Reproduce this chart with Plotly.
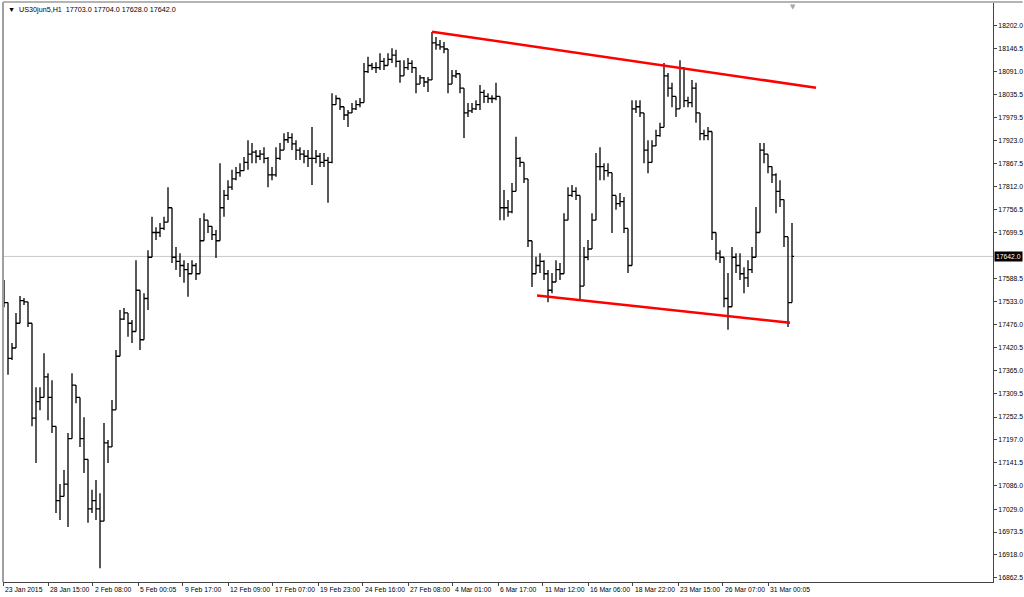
import plotly.graph_objects as go

# H1 bars of US30jun5 aggregated roughly 6 hours per bar
highs = [
    17585, 17530, 17432, 17505, 17546, 17541, 17532, 17480, 17325, 17325,
    17407, 17359, 17342, 17230, 17090, 17124, 17214, 17359, 17330, 17300,
    17252, 17150, 17076, 17100, 17068, 17238, 17197, 17294, 17415, 17512,
    17517, 17505, 17488, 17633, 17560, 17553, 17657, 17738, 17713, 17723,
    17738, 17810, 17760, 17665, 17650, 17633, 17626, 17633, 17626, 17735,
    17747, 17730, 17715, 17706, 17868, 17803, 17827, 17852, 17859, 17868,
    17883, 17924, 17917, 17900, 17900, 17907, 17883, 17859, 17907, 17917,
    17941, 17944, 17941, 17924, 17907, 17900, 17900, 17956, 17900, 17893,
    17893, 17883, 18038, 18033, 18025, 18005, 17997, 18014, 18021, 18026,
    18111, 18126, 18111, 18113, 18135, 18123, 18135, 18147, 18143, 18118,
    18118, 18123, 18118, 18101, 18082, 18077, 18077, 18186, 18174, 18167,
    18162, 18145, 18094, 18094, 18085, 18050, 18014, 18014, 18021, 18058,
    18046, 18038, 18033, 18063, 18030, 17803, 17779, 17820, 17932, 17883,
    17870, 17830, 17680, 17641, 17650, 17633, 17609, 17602, 17633, 17626,
    17747, 17810, 17815, 17810, 17790, 17665, 17682, 17747, 17893, 17907,
    17868, 17868, 17845, 17790, 17796, 17786, 17710, 18021, 18021, 18021,
    17990, 17924, 17924, 17949, 17966, 18111, 18087, 18063, 18030, 18118,
    18100, 18029, 18070, 18063, 17990, 17949, 17956, 17945, 17700, 17657,
    17640, 17602, 17665, 17650, 17650, 17616, 17633, 17665, 17762, 17917,
    17917, 17890, 17860, 17844, 17827, 17780, 17690, 17723,
]
lows = [
    17519, 17355, 17391, 17420, 17480, 17524, 17471, 17230, 17141, 17269,
    17300, 17245, 17214, 17020, 17003, 17060, 16986, 17200, 17286, 17180,
    17117, 16996, 17020, 17003, 16886, 17000, 17141, 17180, 17270, 17400,
    17488, 17447, 17432, 17460, 17415, 17440, 17512, 17640, 17682, 17689,
    17706, 17725, 17626, 17609, 17592, 17578, 17544, 17600, 17585, 17600,
    17680, 17699, 17682, 17638, 17680, 17738, 17779, 17803, 17827, 17835,
    17850, 17852, 17868, 17868, 17876, 17868, 17810, 17827, 17835, 17876,
    17900, 17917, 17900, 17876, 17876, 17868, 17859, 17815, 17868, 17859,
    17859, 17772, 17868, 18010, 17997, 17973, 17956, 17990, 17997, 18004,
    18015, 18087, 18094, 18087, 18094, 18094, 18105, 18111, 18101, 18063,
    18080, 18094, 18087, 18038, 18060, 18053, 18041, 18070, 18143, 18143,
    18135, 18038, 18060, 18075, 18038, 17929, 17980, 17990, 17997, 17997,
    18014, 18014, 18014, 18021, 17730, 17730, 17738, 17747, 17800, 17859,
    17820, 17665, 17568, 17600, 17602, 17585, 17531, 17553, 17580, 17585,
    17600, 17730, 17786, 17779, 17536, 17570, 17633, 17660, 17730, 17827,
    17827, 17835, 17699, 17755, 17762, 17699, 17602, 17620, 17990, 17980,
    17868, 17844, 17870, 17910, 17932, 17955, 18029, 18004, 17980, 18000,
    18004, 18004, 18004, 17966, 17924, 17924, 17924, 17682, 17633, 17626,
    17519, 17464, 17520, 17602, 17585, 17553, 17568, 17602, 17640, 17700,
    17868, 17844, 17820, 17747, 17762, 17665, 17471, 17530,
]
closes = [
    17530, 17395, 17420, 17480, 17535, 17532, 17480, 17250, 17290, 17300,
    17350, 17300, 17230, 17050, 17060, 17090, 17200, 17330, 17300, 17200,
    17150, 17030, 17050, 17030, 17000, 17190, 17180, 17270, 17400, 17490,
    17505, 17480, 17460, 17560, 17440, 17540, 17640, 17700, 17700, 17710,
    17725, 17760, 17640, 17630, 17620, 17610, 17600, 17620, 17600, 17680,
    17730, 17715, 17695, 17680, 17760, 17790, 17810, 17830, 17845, 17850,
    17870, 17890, 17895, 17885, 17890, 17880, 17840, 17840, 17880, 17900,
    17925, 17930, 17915, 17900, 17890, 17885, 17880, 17880, 17885, 17870,
    17875, 17870, 18010, 18025, 18005, 17985, 17990, 18000, 18010, 18015,
    18090, 18105, 18100, 18100, 18115, 18105, 18120, 18130, 18115, 18080,
    18100, 18110, 18100, 18060, 18075, 18065, 18070, 18160, 18155, 18150,
    18145, 18060, 18080, 18085, 18050, 17990, 17995, 18000, 18010, 18040,
    18030, 18025, 18025, 18030, 17760, 17760, 17750, 17800, 17880, 17870,
    17830, 17680, 17600, 17620, 17630, 17600, 17560, 17580, 17610, 17600,
    17730, 17790, 17800, 17790, 17570, 17640, 17660, 17730, 17860, 17860,
    17850, 17845, 17790, 17770, 17775, 17710, 17620, 18000, 18005, 17990,
    17900, 17870, 17910, 17935, 17955, 18080, 18050, 18030, 18000, 18100,
    18020, 18015, 18050, 17990, 17940, 17935, 17945, 17700, 17650, 17640,
    17540, 17520, 17640, 17620, 17600, 17590, 17610, 17640, 17700, 17900,
    17890, 17860, 17840, 17800, 17780, 17690, 17530, 17642,
]
first_open = 17570

# header: last H1 bar O H L C
last_ohlc = [17703.0, 17704.0, 17628.0, 17642.0]
current_price = 17642.0

price_ticks = [18202.0, 18146.5, 18091.0, 18035.5, 17979.5, 17923.0, 17867.5,
               17812.0, 17756.5, 17699.5, 17588.5, 17533.0, 17476.0, 17420.5,
               17365.0, 17309.5, 17252.5, 17197.0, 17141.5, 17086.0, 17029.0,
               16973.5, 16918.0, 16862.5]

time_labels = ['23 Jan 2015', '28 Jan 15:00', '2 Feb 08:00', '5 Feb 00:05',
               '9 Feb 17:00', '12 Feb 09:00', '17 Feb 07:00', '19 Feb 23:00',
               '24 Feb 16:00', '27 Feb 08:00', '4 Mar 01:00', '6 Mar 17:00',
               '11 Mar 12:00', '16 Mar 06:00', '18 Mar 22:00', '23 Mar 15:00',
               '26 Mar 07:00', '31 Mar 00:05']
time_tick_bars = [-0.25, 11.0, 22.2, 33.5, 44.7, 56.0, 67.2, 78.5, 89.7, 101.0,
                  112.2, 123.5, 134.7, 146.0, 157.2, 168.5, 179.7, 191.0]

# trend lines (bar index, price)
upper_line_x = [107, 203]
upper_line_y = [18187, 18051]
lower_line_x = [133.25, 196.5]
lower_line_y = [17547, 17481]

opens = [first_open] + closes[:-1]
bar_idx = list(range(len(closes)))

fig = go.Figure()

fig.add_trace(go.Ohlc(
    x=bar_idx, open=opens, high=highs, low=lows, close=closes,
    increasing=dict(line=dict(color='black', width=1.3)),
    decreasing=dict(line=dict(color='black', width=1.3)),
    tickwidth=0.5,
    hoverinfo='skip'
))

for lx, ly in [(upper_line_x, upper_line_y), (lower_line_x, lower_line_y)]:
    fig.add_trace(go.Scatter(
        x=lx, y=ly, mode='lines',
        line=dict(color='#ff0000', width=2.5),
        hoverinfo='skip'
    ))

# current price line
fig.add_shape(type='line', xref='paper', x0=0, x1=1, yref='y',
              y0=current_price, y1=current_price,
              line=dict(color='#c8c8c8', width=1), layer='below')

# frame (left and top borders)
fig.add_shape(type='line', xref='paper', yref='paper', x0=0, x1=0, y0=0, y1=1,
              line=dict(color='#a0a0a0', width=2))
fig.add_shape(type='line', xref='paper', yref='paper', x0=0, x1=1.03, y0=1, y1=1,
              line=dict(color='#b4b4b4', width=2))

small_font = dict(family='Liberation Sans', size=6.8, color='black')

# header text
fig.add_annotation(
    xref='paper', yref='paper', x=0, y=1, xanchor='left', yanchor='top',
    xshift=3, yshift=-1, showarrow=False,
    text='▼  US30jun5,H1  ' + ' '.join(f'{v:.1f}' for v in last_ohlc),
    font=dict(family='Liberation Sans', size=7.2, color='black')
)
# chart shift marker
fig.add_annotation(
    xref='paper', yref='paper', x=0.798, y=1, xanchor='center', yanchor='top',
    yshift=1, showarrow=False, text='▼',
    font=dict(family='DejaVu Sans', size=7, color='#a8a8a8')
)

# current price label
fig.add_annotation(
    xref='paper', x=1, xanchor='left', xshift=1, yref='y', y=current_price,
    showarrow=False, text=f'{current_price:.1f}', bgcolor='black',
    font=dict(family='Liberation Sans', size=6.8, color='white'), borderpad=1
)

# time labels, left aligned after the tick mark
for tb, lbl in zip(time_tick_bars, time_labels):
    fig.add_annotation(
        xref='x', x=tb, yref='paper', y=0, xanchor='left', yanchor='top',
        xshift=0, yshift=-2, showarrow=False, text=lbl, font=small_font
    )

fig.update_layout(
    width=1024, height=597,
    margin=dict(l=3, r=31, t=2, b=15),
    paper_bgcolor='white', plot_bgcolor='white',
    showlegend=False,
    font=small_font,
    xaxis=dict(
        range=[-0.25, 247.25], rangeslider=dict(visible=False),
        showgrid=False, zeroline=False,
        tickmode='array', tickvals=time_tick_bars, showticklabels=False,
        ticks='outside', ticklen=3, tickcolor='#444',
        showline=True, linecolor='#444', linewidth=1
    ),
    yaxis=dict(
        side='right', range=[16852.5, 18259.0],
        showgrid=False, zeroline=False, automargin=False,
        tickmode='array', tickvals=price_ticks,
        ticktext=[f'{v:.1f}' for v in price_ticks],
        ticks='outside', ticklen=3, tickcolor='#444',
        showline=True, linecolor='#444', linewidth=1,
        tickfont=small_font
    )
)

# drop the default page margin so the figure fills the window exactly
fig.write_html('out.html', config={'displayModeBar': False},
               post_script="document.body.style.margin='0';"
                           "document.body.style.overflow='hidden';")
